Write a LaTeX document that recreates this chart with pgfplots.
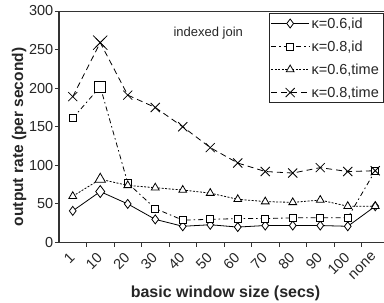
\documentclass[border=0pt]{standalone}
\usepackage{pgfplots}
\pgfplotsset{compat=1.18}
\usepackage{fontspec}
\setmainfont{Liberation Sans}
\begin{document}
\begin{tikzpicture}[x=1pt,y=1pt]
\clip (-59,-60.5) rectangle (325,242.5);
\begin{axis}[
  at={(0,0)}, anchor=south west,
  scale only axis, width=330pt, height=231.5pt,
  xmin=-0.5, xmax=11.5, ymin=0, ymax=300,
  axis x line*=bottom, axis y line*=left,
  axis line style={-, line width=1.3pt, black!80},
  tick align=outside,
  xtick={0,...,11},
  xticklabels={1,10,20,30,40,50,60,70,80,90,100,none},
  major x tick style={draw=none},
  minor xtick={0.5,1.5,...,10.5},
  minor tick length=4pt,
  major tick length=4pt,
  every tick/.style={black!80, line width=0.9pt},
  ytick={0,50,...,300},
  /pgf/number format/assume math mode=true,
  tick label style={font=\fontsize{14.5}{16}\selectfont, text=black!85},
  x tick label style={rotate=45, anchor=north east, inner sep=0.5pt, xshift=-6pt},
  y tick label style={inner sep=1.5pt},
  xlabel={\bfseries basic window size (secs)},
  ylabel={\bfseries output rate (per second)},
  every axis x label/.style={at={(rel axis cs:0.5045,-0.2376)}, anchor=base, font=\fontsize{16}{18}\selectfont, text=black!85},
  every axis y label/.style={at={(rel axis cs:-0.109,0.456)}, rotate=90, anchor=base, font=\fontsize{15.5}{18}\selectfont, text=black!85},
  legend style={at={(0.982,0.99)}, anchor=north east, font=\fontsize{14.5}{16}\selectfont,
    draw=black!85, inner sep=2pt, row sep=7pt, cells={anchor=west}, text=black!85},
  legend image code/.code={\draw[mark repeat=2,mark phase=2,#1] plot coordinates {(0pt,0pt) (19pt,0pt) (38pt,0pt)};},
]
\addplot[black, line width=0.8pt, mark=diamond*, mark options={solid, fill=white, mark size=4.5pt}]
  coordinates {(0,41) (1,66) (2,50) (3,30) (4,21) (5,23) (6,20) (7,22) (8,22) (9,22) (10,21) (11,47)};
\addlegendentry{κ=0.6,id}
\addplot[black, line width=0.8pt, dash pattern=on 5pt off 3pt on 1.5pt off 3pt, mark=square*, mark options={solid, fill=white, mark size=3.5pt}]
  coordinates {(0,161) (1,202) (2,77) (3,44) (4,29) (5,30) (6,31) (7,31) (8,32) (9,32) (10,32) (11,93)};
\addlegendentry{κ=0.8,id}
\addplot[black, line width=0.8pt, dash pattern=on 2pt off 1.5pt, mark=triangle*, mark options={solid, fill=white, mark size=4.5pt}]
  coordinates {(0,60) (1,82) (2,74) (3,71) (4,68) (5,64) (6,56) (7,53) (8,52) (9,55) (10,47) (11,47)};
\addlegendentry{κ=0.6,time}
\addplot[black, line width=0.8pt, dash pattern=on 6pt off 4pt, mark=x, mark options={solid, mark size=6.4pt}]
  coordinates {(0,189) (1,259) (2,191) (3,175) (4,150) (5,123) (6,103) (7,92) (8,90) (9,97) (10,92) (11,93)};
\addlegendentry{κ=0.8,time}
% enlarged markers at 10 secs
\addplot[forget plot, only marks, black, line width=0.8pt, mark=diamond*, mark options={fill=white, mark size=6pt}] coordinates {(1,66)};
\addplot[forget plot, only marks, black, line width=0.8pt, mark=triangle*, mark options={fill=white, mark size=6pt}] coordinates {(1,82)};
\addplot[forget plot, only marks, black, line width=0.8pt, mark=square*, mark options={fill=white, mark size=5.5pt}] coordinates {(1,202)};
\addplot[forget plot, only marks, black, line width=0.8pt, mark=x, mark options={mark size=10pt}] coordinates {(1,259)};
\node[anchor=base west, font=\fontsize{13}{15}\selectfont, text=black!85] at (axis cs:3.536,267.6) {indexed join};
\draw[black!80, line width=1pt] (rel axis cs:0,1) -- (rel axis cs:1,1);
\end{axis}
\end{tikzpicture}
\end{document}
